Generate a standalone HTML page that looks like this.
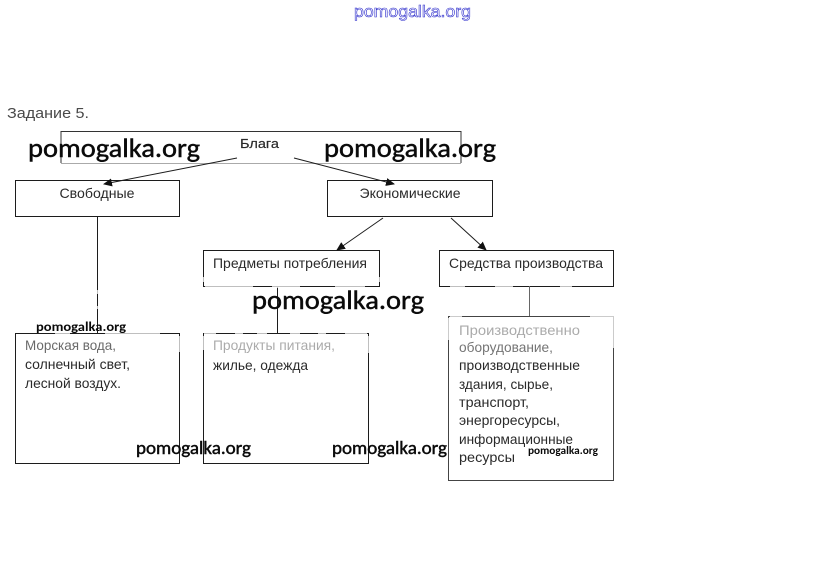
<!DOCTYPE html>
<html><head><meta charset="utf-8"><style>
html,body{margin:0;padding:0;background:#fff}
svg{display:block}
.t{font-family:"Liberation Sans",sans-serif;font-size:14px;fill:#2a2a2a}
.w{font-family:"Carlito","Lato","Liberation Sans",sans-serif;font-weight:bold;fill:#0a0a0a}
.m{font-weight:normal;stroke:#0a0a0a;stroke-width:.45}
</style></head><body>
<svg width="823" height="574" viewBox="0 0 823 574" xmlns="http://www.w3.org/2000/svg">
<rect width="823" height="574" fill="#fff"/>
<defs><marker id="a" markerWidth="9" markerHeight="8" refX="8" refY="4" orient="auto" markerUnits="userSpaceOnUse"><path d="M0 0L9 4L0 8Z" fill="#111"/></marker></defs>

<text x="354" y="17" font-family="Liberation Sans,sans-serif" font-size="17" fill="#fff" stroke="#3030cc" stroke-width="0.6" textLength="117" lengthAdjust="spacingAndGlyphs">pomogalka.org</text>
<text x="7" y="118" font-family="Liberation Sans,sans-serif" font-size="15" fill="#4a4a4a" textLength="82" lengthAdjust="spacingAndGlyphs">Задание 5.</text>

<g fill="none" stroke="#1c1c1c" stroke-width="1">
<path d="M61 163V131.500H461V163" stroke="#333"/>
<path d="M61 163.500H461" stroke="#aaa"/>
<rect x="15.500" y="180.500" width="164" height="36"/>
<rect x="327.500" y="180.500" width="165" height="36"/>
<rect x="203.500" y="250.500" width="176" height="36"/>
<rect x="439.500" y="250.500" width="174" height="36"/>
<rect x="15.500" y="333.500" width="164" height="130"/>
<rect x="203.500" y="333.500" width="165" height="130"/>
<rect x="448.500" y="316.500" width="165" height="164" stroke="#444"/>
<path d="M97.500 216V333"/>
<path d="M277.500 286V333"/>
<path d="M529.500 286V316" stroke="#666"/>
<path d="M237 158L104 184" marker-end="url(#a)"/>
<path d="M294 158L394 184" marker-end="url(#a)"/>
<path d="M383 218L337 250" marker-end="url(#a)"/>
<path d="M451 218L486 250" marker-end="url(#a)"/>
</g>

<!-- faded noise band -->
<g fill="#fff" fill-opacity=".72">
<rect x="203" y="277" width="2" height="5"/><rect x="378" y="277" width="3" height="5"/>
<rect x="205" y="285" width="48" height="3"/><rect x="272" y="285" width="28" height="3"/><rect x="335" y="285" width="30" height="3"/>
<rect x="450" y="285" width="15" height="3"/><rect x="495" y="285" width="18" height="3"/><rect x="560" y="285" width="12" height="3"/>
<rect x="55" y="332" width="15" height="3"/><rect x="105" y="332" width="55" height="3"/>
<rect x="204" y="332" width="12" height="3"/><rect x="235" y="332" width="8" height="3"/><rect x="257" y="332" width="10" height="3"/><rect x="290" y="332" width="10" height="3"/><rect x="318" y="332" width="8" height="3"/><rect x="345" y="332" width="22" height="3"/>
<rect x="202" y="336" width="3" height="14"/><rect x="367" y="336" width="3" height="17"/><rect x="178" y="336" width="3" height="16"/>
<rect x="96" y="290" width="3" height="4"/><rect x="96" y="306" width="3" height="3"/>
<rect x="450" y="315" width="12" height="3"/><rect x="590" y="315" width="25" height="3"/>
<rect x="612" y="318" width="3" height="30"/><rect x="447" y="318" width="3" height="22"/>
</g>

<text class="t" x="97" y="198" text-anchor="middle" textLength="75" lengthAdjust="spacingAndGlyphs">Свободные</text>
<text class="t" x="410" y="198" text-anchor="middle" textLength="101" lengthAdjust="spacingAndGlyphs">Экономические</text>
<text class="t" x="213" y="268" textLength="154" lengthAdjust="spacingAndGlyphs">Предметы потребления</text>
<text class="t" x="449" y="268" textLength="154" lengthAdjust="spacingAndGlyphs">Средства производства</text>
<text class="t" x="240" y="148" style="font-size:13px" stroke="#2a2a2a" stroke-width=".2" textLength="39" lengthAdjust="spacingAndGlyphs">Блага</text>

<text class="t" x="25" y="350" fill-opacity=".7" textLength="91" lengthAdjust="spacingAndGlyphs">Морская вода,</text>
<text class="t" x="25" y="369" textLength="105" lengthAdjust="spacingAndGlyphs">солнечный свет,</text>
<text class="t" x="25" y="388" textLength="96" lengthAdjust="spacingAndGlyphs">лесной воздух.</text>

<text class="t" x="213" y="350" fill-opacity=".4" textLength="122" lengthAdjust="spacingAndGlyphs">Продукты питания,</text>
<text class="t" x="213" y="370" textLength="95" lengthAdjust="spacingAndGlyphs">жилье, одежда</text>

<text class="t" x="459" y="335" fill-opacity=".4" textLength="121" lengthAdjust="spacingAndGlyphs">Производственно</text>
<text class="t" x="459" y="352" fill-opacity=".65" textLength="94" lengthAdjust="spacingAndGlyphs">оборудование,</text>
<text class="t" x="459" y="370" textLength="121" lengthAdjust="spacingAndGlyphs">производственные</text>
<text class="t" x="459" y="389" textLength="94" lengthAdjust="spacingAndGlyphs">здания, сырье,</text>
<text class="t" x="459" y="407" textLength="70" lengthAdjust="spacingAndGlyphs">транспорт,</text>
<text class="t" x="459" y="425" textLength="101" lengthAdjust="spacingAndGlyphs">энергоресурсы,</text>
<text class="t" x="459" y="444" textLength="114" lengthAdjust="spacingAndGlyphs">информационные</text>
<text class="t" x="459" y="462" textLength="56" lengthAdjust="spacingAndGlyphs">ресурсы</text>

<text class="w m" x="28" y="157" font-size="27" textLength="172" lengthAdjust="spacingAndGlyphs">pomogalka.org</text>
<text class="w m" x="324" y="157" font-size="27" textLength="172" lengthAdjust="spacingAndGlyphs">pomogalka.org</text>
<text class="w m" x="252" y="309" font-size="27" textLength="172" lengthAdjust="spacingAndGlyphs">pomogalka.org</text>
<text class="w" x="36" y="331" font-size="13" textLength="90" lengthAdjust="spacingAndGlyphs">pomogalka.org</text>
<text class="w m" x="136" y="454" font-size="18" textLength="115" lengthAdjust="spacingAndGlyphs">pomogalka.org</text>
<text class="w m" x="332" y="454" font-size="18" textLength="115" lengthAdjust="spacingAndGlyphs">pomogalka.org</text>
<text class="w" x="528" y="454" font-size="11.500" textLength="70" lengthAdjust="spacingAndGlyphs">pomogalka.org</text>
</svg>
</body></html>
